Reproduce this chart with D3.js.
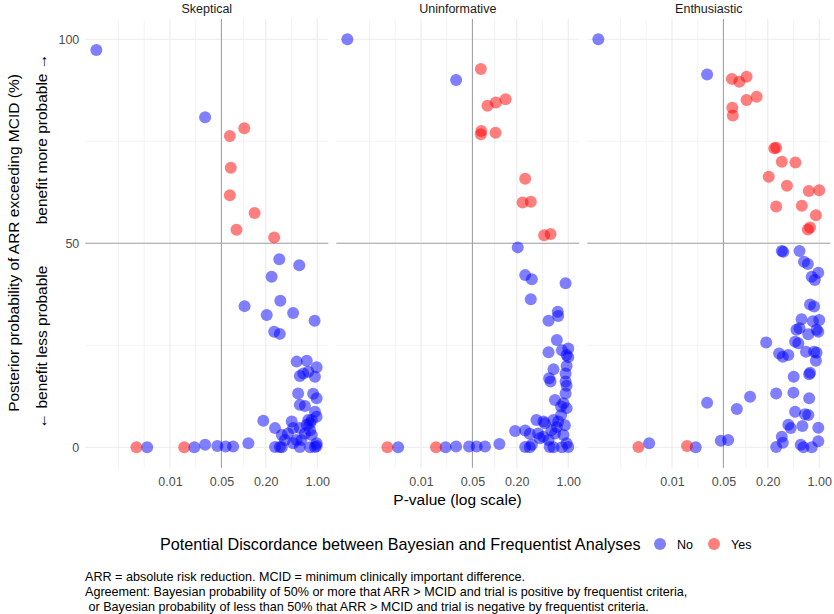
<!DOCTYPE html>
<html><head><meta charset="utf-8">
<script src="https://cdn.jsdelivr.net/npm/d3@7"></script>
<style>
html,body{margin:0;padding:0;background:#fff;}
text{font-family:"Liberation Sans",Arial,sans-serif;}
</style></head>
<body><div id="chart"></div>
<script>
// ---------- data ----------
const panels = ["Skeptical", "Uninformative", "Enthusiastic"];
const xTickValues = [0.01, 0.05, 0.2, 1];
const xTickLabels = ["0.01", "0.05", "0.20", "1.00"];
const xMinorValues = [0.002, 0.00447, 0.02236, 0.1, 0.4472];
const yTickValues = [0, 50, 100];
const yMinorValues = [25, 75];
const legendLabels = ["No", "Yes"];

// [p-value, posterior probability %]
const skepticalNo = [[0.001,97.4],[0.030,80.9],[0.305,46.1],[0.57,44.6],[0.24,41.8],[0.103,34.6],[0.315,35.9],[0.206,32.4],[0.47,32.9],[0.92,31.0],[0.26,28.3],[0.31,27.8],
 [0.525,21.0],[0.72,21.2],[0.98,19.6],[0.646,18.1],[0.755,18.5],[0.93,17.3],[0.58,17.5],
 [0.55,13.2],[0.88,13.1],[0.98,12.0],[0.58,10.4],[0.68,10.1],[0.93,8.7],[0.98,7.5],[0.84,6.7],[0.185,6.5],
 [0.267,4.7],[0.33,3.0],[0.45,6.3],[0.47,4.7],[0.40,3.4],[0.58,4.7],[0.72,5.5],[0.80,5.9],[0.68,3.4],[0.84,3.0],[0.364,1.8],[0.525,1.8],
 [0.267,0.1],[0.31,0.1],[0.33,0],[0.47,1.0],[0.58,0.1],[0.61,1.8],[0.80,0],[0.93,0.1],[0.98,1.0],[0.98,0.3],[0.80,4.2],[0.755,6.7],
 [0.0049,0],[0.0214,0],[0.030,0.6],[0.044,0.3],[0.057,0.2],[0.072,0.2],[0.116,1.0]];
const skepticalYes = [[0.102,78.2],[0.065,76.3],[0.067,68.5],[0.065,61.8],[0.141,57.4],[0.08,53.3],[0.26,51.4],[0.0035,0],[0.0156,0]];

const uninformativeNo = [[0.001,100],[0.030,90.0],[0.206,49.0],[0.26,42.2],[0.32,41.2],[0.92,40.2],[0.31,36.3],[0.72,33.2],[0.73,32.2],[0.54,31.0],
 [0.70,26.3],[0.54,23.3],[0.82,23.8],[1.0,24.2],[0.95,22.6],[1.0,22.1],[0.95,19.9],[0.92,18.1],[0.63,19.1],[0.55,16.9],[0.575,16.1],[0.92,16.1],
 [0.95,15.1],[0.92,13.2],[0.66,11.6],[0.86,10.8],[0.80,10.0],[0.95,9.6],[0.80,7.9],[0.37,6.7],[0.46,6.3],[0.48,5.9],[0.63,6.7],[0.73,6.3],[0.70,5.0],
 [0.90,5.4],[0.19,4.0],[0.26,4.1],[0.30,3.3],[0.39,3.4],[0.41,2.2],[0.59,4.2],[0.66,3.4],[0.86,3.0],[0.116,0.8],[0.26,0.1],[0.30,0],[0.32,0.6],
 [0.56,0.1],[0.63,0],[0.82,0],[0.95,1.0],[1.0,0.1],[0.54,1.8],[0.46,2.6],
 [0.0049,0],[0.0216,0],[0.030,0.2],[0.045,0.2],[0.057,0.2],[0.074,0.2]];
const uninformativeYes = [[0.065,92.7],[0.080,83.7],[0.104,84.5],[0.141,85.3],[0.066,77.5],[0.065,76.7],[0.103,77.1],[0.26,65.8],[0.24,60.0],[0.31,60.2],[0.47,52.0],[0.575,52.3],[0.0035,0],[0.016,0]];

const enthusiasticNo = [[0.001,100],[0.030,91.4],[0.31,48.1],[0.325,47.9],[0.54,48.1],[0.62,45.5],[0.70,44.9],[0.79,41.8],[0.97,42.8],[0.87,41.0],
 [0.75,35.0],[0.85,34.5],[0.575,31.4],[0.82,30.9],[1.0,31.2],[0.49,28.8],[0.54,29.2],[0.71,27.7],[0.92,28.8],[0.97,28.3],[0.19,25.7],[0.47,25.9],
 [0.52,25.5],[0.285,23.0],[0.32,22.2],[0.38,22.6],[0.66,23.4],[0.85,23.4],[0.92,23.2],[0.90,21.2],[0.45,17.3],[0.75,18.3],[0.73,17.9],[0.115,12.4],
 [0.26,13.2],[0.445,13.4],[0.73,12.0],[0.076,9.4],[0.47,8.7],[0.64,8.1],[0.71,7.9],[0.38,5.5],[0.41,4.7],[0.59,5.2],[0.97,4.8],[0.31,2.6],[0.32,1.1],
 [0.26,0.1],[0.56,0.6],[0.61,0],[0.79,0],[0.97,1.5],
 [0.0049,1.0],[0.021,0],[0.030,10.9],[0.046,1.6],[0.058,1.8]];
const enthusiasticYes = [[0.065,90.3],[0.082,89.6],[0.103,90.8],[0.103,85.1],[0.141,85.9],[0.066,83.2],[0.067,81.3],[0.245,73.3],[0.26,73.4],[0.31,70.0],
 [0.475,69.8],[0.206,66.3],[0.364,64.1],[0.72,62.8],[1.0,63.0],[0.26,59.0],[0.58,59.2],[0.90,56.9],[0.70,53.4],[0.75,53.9],[0.0035,0.1],[0.016,0.3]];

const panelNo = [skepticalNo, uninformativeNo, enthusiasticNo];
const panelYes = [skepticalYes, uninformativeYes, enthusiasticYes];

// ---------- layout ----------
const W = 834, H = 614;
const panelLeft = 85.3, panelW = 243, panelGap = 8, panelTop = 18.9, panelH = 448.8;
const colNo = "rgba(0,0,255,0.5)", colYes = "rgba(255,0,0,0.5)";
const R = 6;

const svg = d3.select("#chart").append("svg").attr("width", W).attr("height", H);

const x = d3.scaleLog().domain([Math.pow(10, -3.15), Math.pow(10, 0.15)]).range([0, panelW]);
const y = d3.scaleLinear().domain([-5, 105]).range([panelH, 0]);

panels.forEach((name, i) => {
  const g = svg.append("g").attr("transform", `translate(${panelLeft + i * (panelW + panelGap)},${panelTop})`);
  // minor grid
  g.selectAll(".xminor").data(xMinorValues).join("line")
    .attr("x1", d => x(d)).attr("x2", d => x(d)).attr("y1", 0).attr("y2", panelH)
    .attr("stroke", "#ebebeb").attr("stroke-width", 0.6);
  g.selectAll(".yminor").data(yMinorValues).join("line")
    .attr("y1", d => y(d)).attr("y2", d => y(d)).attr("x1", 0).attr("x2", panelW)
    .attr("stroke", "#ebebeb").attr("stroke-width", 0.6);
  // major grid
  g.selectAll(".xmajor").data(xTickValues).join("line")
    .attr("x1", d => x(d)).attr("x2", d => x(d)).attr("y1", 0).attr("y2", panelH)
    .attr("stroke", "#ebebeb").attr("stroke-width", 1.1);
  g.selectAll(".ymajor").data(yTickValues).join("line")
    .attr("y1", d => y(d)).attr("y2", d => y(d)).attr("x1", 0).attr("x2", panelW)
    .attr("stroke", "#ebebeb").attr("stroke-width", 1.1);
  // reference lines
  g.append("line").attr("x1", x(0.05)).attr("x2", x(0.05)).attr("y1", 0).attr("y2", panelH)
    .attr("stroke", "#a3a3a3").attr("stroke-width", 1.1);
  g.append("line").attr("y1", y(50)).attr("y2", y(50)).attr("x1", 0).attr("x2", panelW)
    .attr("stroke", "#a3a3a3").attr("stroke-width", 1.1);
  // points
  const pts = panelNo[i].map(d => ({p: d[0], v: d[1], c: colNo}))
    .concat(panelYes[i].map(d => ({p: d[0], v: d[1], c: colYes})));
  g.selectAll("circle.pt").data(pts).join("circle")
    .attr("cx", d => x(d.p)).attr("cy", d => y(d.v)).attr("r", R).attr("fill", d => d.c);
  // strip
  svg.append("text").attr("x", panelLeft + i * (panelW + panelGap) + panelW / 2).attr("y", 13)
    .attr("text-anchor", "middle").attr("font-size", 12.5).attr("fill", "#1a1a1a").text(name);
  // x axis
  const ax = g.append("g").attr("transform", `translate(0,${panelH})`)
    .call(d3.axisBottom(x).tickValues(xTickValues).tickFormat((d, k) => xTickLabels[k]).tickSize(0).tickPadding(9));
  ax.select(".domain").remove();
  ax.selectAll("text").attr("font-size", 12.5).attr("fill", "#4d4d4d").attr("font-family", "Liberation Sans, Arial, sans-serif");
  if (i === 0) {
    const ay = g.append("g").call(d3.axisLeft(y).tickValues(yTickValues).tickSize(0).tickPadding(6));
    ay.select(".domain").remove();
    ay.selectAll("text").attr("font-size", 12.5).attr("fill", "#4d4d4d").attr("font-family", "Liberation Sans, Arial, sans-serif");
  }
});

// axis titles
svg.append("text").attr("x", 457.5).attr("y", 505).attr("text-anchor", "middle")
  .attr("font-size", 15.5).attr("fill", "#000").text("P-value (log scale)");
svg.append("text").attr("transform", "translate(19,243) rotate(-90)").attr("text-anchor", "middle")
  .attr("font-size", 15.5).attr("fill", "#000").text("Posterior probability of ARR exceeding MCID (%)");
svg.append("text").attr("transform", "translate(47,347) rotate(-90)").attr("text-anchor", "middle")
  .attr("font-size", 15.5).attr("fill", "#000").text("\u2190 benefit less probable");
svg.append("text").attr("transform", "translate(47,139) rotate(-90)").attr("text-anchor", "middle")
  .attr("font-size", 15.5).attr("fill", "#000").text("benefit more probable \u2192");

// legend
svg.append("text").attr("x", 160).attr("y", 549.5).attr("font-size", 16.2).attr("fill", "#000")
  .text("Potential Discordance between Bayesian and Frequentist Analyses");
const legCols = [colNo, colYes];
const legX = [660, 714];
legendLabels.forEach((lab, k) => {
  svg.append("circle").attr("cx", legX[k]).attr("cy", 544).attr("r", R).attr("fill", legCols[k]);
  svg.append("text").attr("x", legX[k] + 17).attr("y", 548.5).attr("font-size", 12.5).attr("fill", "#000").text(lab);
});

// caption
const captionLines = [
  "ARR = absolute risk reduction. MCID = minimum clinically important difference.",
  "Agreement: Bayesian probability of 50% or more that ARR > MCID and trial is positive by frequentist criteria,",
  " or Bayesian probability of less than 50% that ARR > MCID and trial is negative by frequentist criteria."
];
captionLines.forEach((t, k) => {
  svg.append("text").attr("x", 85).attr("y", 581 + k * 15.2).attr("font-size", 12.6)
    .attr("fill", "#000").attr("xml:space", "preserve").style("white-space", "pre").text(t);
});
</script></body></html>
